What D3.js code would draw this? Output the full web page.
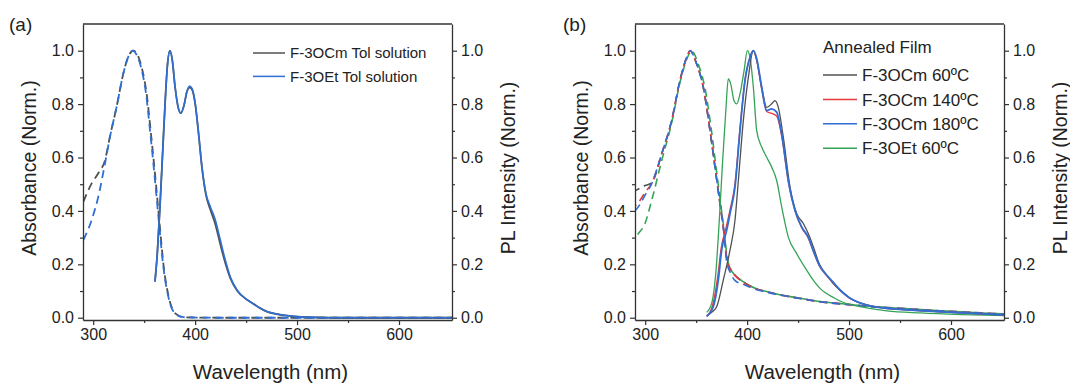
<!DOCTYPE html>
<html>
<head>
<meta charset="utf-8">
<script src="https://cdn.jsdelivr.net/npm/d3@7"></script>
<style>
  body { margin: 0; background: #fff; }
  svg { display: block; font-family: "Liberation Sans", Arial, sans-serif; }
  .domain { stroke: #333; stroke-width: 1.3; }
  .tick line { stroke: #333; stroke-width: 1.2; }
  .tick text { fill: #222; font-size: 16px; }
</style>
</head>
<body>
<div id="chart"></div>
<script>
// wavelength (nm) / normalized value pairs

// panel (a): toluene solutions
var absCmTol = [[290.3,0.434],[298.5,0.503],[305,0.541],[311.6,0.59],[316.5,0.68],[323,0.79],[329.6,0.915],[334.5,0.978],[339.5,1.0],[343.5,0.984],[348.2,0.928],[352.4,0.84],[356.3,0.703],[361.2,0.516],[365.4,0.341],[369.2,0.191],[374,0.079],[380.5,0.016],[388.5,0.002],[420,0],[652,0]];
var absEtTol = [[290.3,0.291],[298.5,0.366],[305,0.453],[311.6,0.578],[316.5,0.678],[323,0.79],[329.6,0.915],[334.5,0.978],[338.8,1.0],[342.7,0.984],[347.6,0.928],[351.8,0.84],[355.7,0.703],[360.6,0.516],[364.9,0.341],[368.8,0.191],[373.7,0.079],[380.3,0.016],[388.5,0.002],[420,0],[652,0]];
var plCmTol = [[360.6,0.135],[362.9,0.241],[365.5,0.416],[368.1,0.616],[370.7,0.815],[372.7,0.94],[375.3,1.0],[377.6,0.965],[380.3,0.865],[383.6,0.784],[385.9,0.766],[389.2,0.797],[391.9,0.846],[394.5,0.862],[396.9,0.855],[400.1,0.8],[403.4,0.688],[406.7,0.562],[410.6,0.46],[414.9,0.405],[419.8,0.35],[424.7,0.275],[429.6,0.205],[434.5,0.148],[441.1,0.102],[450.9,0.067],[458,0.05],[463.3,0.037],[471,0.022],[480,0.014],[488,0.009],[500,0.004],[520,0.001],[540,0],[652,0]];
var plEtTol = [[360.6,0.135],[362.9,0.241],[365.5,0.416],[368.1,0.616],[370.7,0.815],[372.7,0.94],[375.3,1.0],[377.6,0.965],[380.3,0.865],[383.6,0.784],[385.9,0.766],[389.2,0.797],[391.9,0.846],[394.5,0.868],[396.9,0.859],[400.1,0.803],[403.4,0.69],[406.7,0.565],[410.6,0.466],[414.9,0.416],[419.8,0.366],[424.7,0.291],[429.6,0.216],[434.5,0.153],[441.1,0.104],[450.9,0.068],[458,0.05],[463.3,0.037],[471,0.022],[480,0.014],[488,0.009],[500,0.004],[520,0.001],[540,0],[652,0]];

// panel (b): annealed films
var absCm60 = [[290,0.475],[295,0.485],[300,0.495],[306.4,0.505],[316.2,0.614],[326,0.739],[334.1,0.888],[340.7,0.975],[344,1.0],[350.5,0.95],[357,0.863],[363.6,0.701],[368.5,0.564],[373.4,0.427],[376.6,0.34],[380,0.225],[384,0.18],[388,0.16],[396.2,0.135],[408,0.11],[419.2,0.098],[435,0.084],[451.9,0.073],[471,0.061],[491,0.053],[520,0.043],[560,0.033],[600,0.024],[630,0.018],[652,0.014]];
var absCm140 = [[290,0.418],[295,0.44],[300,0.47],[306.4,0.503],[316.2,0.614],[326,0.739],[334.1,0.888],[340.7,0.975],[344,1.0],[350.5,0.95],[357,0.863],[363.6,0.701],[368.5,0.564],[373.4,0.427],[376.6,0.34],[380,0.222],[384,0.178],[388,0.158],[396.2,0.133],[408,0.109],[419.2,0.097],[435,0.083],[451.9,0.072],[471,0.06],[491,0.052],[520,0.042],[560,0.032],[600,0.023],[630,0.017],[652,0.013]];
var absCm180 = [[290,0.40],[295,0.425],[300,0.46],[306.4,0.502],[316.2,0.614],[326,0.739],[334.1,0.888],[340.7,0.975],[344,1.0],[350.5,0.95],[357,0.863],[363.6,0.701],[368.5,0.564],[373.4,0.427],[376.6,0.34],[380,0.21],[384,0.165],[388,0.14],[396.2,0.125],[408,0.107],[419.2,0.096],[435,0.083],[451.9,0.072],[471,0.06],[491,0.052],[520,0.042],[560,0.032],[600,0.023],[630,0.017],[652,0.013]];
var absEt60 = [[290,0.30],[293.2,0.315],[299.8,0.353],[306.4,0.44],[316.2,0.589],[326,0.73],[334.1,0.88],[341.5,0.975],[345.6,1.0],[352,0.95],[358.5,0.863],[365,0.701],[369.5,0.564],[374,0.427],[377,0.34],[380.5,0.225],[384,0.18],[388,0.16],[396.2,0.135],[408,0.11],[419.2,0.098],[435,0.084],[451.9,0.073],[471,0.061],[491,0.053],[520,0.043],[560,0.033],[600,0.024],[630,0.018],[652,0.014]];

var plCm60 = [[360.3,0.008],[365,0.02],[370.1,0.041],[376.6,0.141],[383.2,0.253],[388.1,0.365],[391.4,0.514],[396.3,0.739],[401.2,0.9],[406.1,1.0],[409.4,0.963],[414.3,0.863],[419.2,0.788],[424.1,0.801],[427.3,0.813],[430.6,0.788],[435.5,0.676],[442.1,0.489],[448.6,0.39],[455.1,0.353],[460,0.315],[465,0.265],[471,0.2],[478,0.16],[484,0.13],[492,0.1],[500,0.075],[520,0.045],[540,0.034],[560,0.029],[600,0.02],[652,0.01]];
var plCm140 = [[360.3,0.005],[366,0.045],[371,0.15],[374.5,0.26],[379.5,0.34],[383,0.4],[388,0.5],[393,0.71],[397.9,0.89],[402.8,0.975],[406.1,1.0],[409.4,0.965],[414.3,0.855],[419.2,0.772],[424.1,0.765],[429,0.755],[433.9,0.68],[440.4,0.51],[447,0.4],[453.5,0.337],[460,0.298],[465,0.248],[471,0.193],[478,0.158],[484,0.133],[492,0.1],[500,0.075],[520,0.045],[540,0.034],[560,0.029],[600,0.02],[652,0.011]];
var plCm180 = [[360.3,0.005],[366.8,0.041],[371.7,0.141],[375,0.253],[380,0.328],[383.2,0.39],[388.1,0.489],[393,0.701],[397.9,0.888],[402.8,0.975],[406.1,1.0],[409.4,0.97],[414.3,0.863],[419.2,0.776],[424.1,0.782],[429,0.77],[433.9,0.688],[440.4,0.514],[447,0.402],[453.5,0.34],[460,0.302],[465,0.25],[471,0.195],[478,0.16],[484,0.135],[492,0.101],[500,0.076],[520,0.045],[540,0.034],[560,0.029],[600,0.02],[652,0.011]];
var plEt60 = [[360.3,0.02],[365.2,0.054],[369.5,0.178],[372.7,0.365],[376,0.589],[379.3,0.788],[381.5,0.894],[383.9,0.876],[387.1,0.813],[389.8,0.801],[393,0.838],[397,0.925],[400.2,1.0],[402.8,0.975],[406.1,0.863],[409.4,0.701],[414.3,0.639],[419.2,0.601],[424.1,0.564],[429,0.514],[433.9,0.415],[440.4,0.302],[448.6,0.24],[458.4,0.178],[465,0.14],[471.5,0.11],[485,0.075],[494,0.058],[504,0.047],[520,0.035],[537,0.026],[570,0.018],[610,0.012],[652,0.008]];

var xTicks = [300, 400, 500, 600];
var xMinor = [350, 450, 550];
var yTicks = [0, 0.2, 0.4, 0.6, 0.8, 1.0];
var yMinor = [0.1, 0.3, 0.5, 0.7, 0.9];

var legendA = ["F-3OCm Tol solution", "F-3OEt Tol solution"];
var legendB = ["F-3OCm 60ºC", "F-3OCm 140ºC", "F-3OCm 180ºC", "F-3OEt 60ºC"];

var GRAY = "#505050", BLUE = "#2f6fd3", RED = "#e5393b", GREEN = "#35a356";

var W = 1070, H = 383;
var svg = d3.select("#chart").append("svg").attr("width", W).attr("height", H);

function drawPanel(opt) {
    var x = d3.scaleLinear().domain([290, 652]).range([opt.left, opt.left + 369]);
    var y = d3.scaleLinear().domain([-0.0085, 1.1]).range([320, 24]);
    var g = svg.append("g");

    var clipId = "clip" + opt.name;
    g.append("clipPath").attr("id", clipId).append("rect")
        .attr("x", x.range()[0]).attr("y", 24)
        .attr("width", x.range()[1] - x.range()[0]).attr("height", 296);

    // curves
    var line = d3.line()
        .x(function (d) { return x(d[0]); })
        .y(function (d) { return y(d[1]); })
        .curve(d3.curveMonotoneX);
    var curves = g.append("g").attr("clip-path", "url(#" + clipId + ")");
    opt.series.forEach(function (s) {
        curves.append("path")
            .attr("d", line(s.data))
            .attr("fill", "none")
            .attr("stroke", s.color)
            .attr("stroke-width", s.width)
            .attr("stroke-dasharray", s.dash ? "8,5" : null)
            .attr("stroke-dashoffset", s.offset || 0);
    });

    // axes
    g.append("g").attr("transform", "translate(0,320)")
        .call(d3.axisBottom(x).tickValues(xTicks).tickSize(5).tickSizeOuter(0).tickPadding(4).tickFormat(d3.format("d")));
    g.append("g").attr("transform", "translate(0,320)")
        .call(d3.axisBottom(x).tickValues(xMinor).tickSize(3).tickSizeOuter(0).tickFormat(""))
        .select(".domain").remove();
    g.append("g").attr("transform", "translate(" + x.range()[0] + ",0)")
        .call(d3.axisLeft(y).tickValues(yTicks).tickSize(5).tickSizeOuter(0).tickPadding(4).tickFormat(d3.format(".1f")));
    g.append("g").attr("transform", "translate(" + x.range()[0] + ",0)")
        .call(d3.axisLeft(y).tickValues(yMinor).tickSize(3).tickSizeOuter(0).tickFormat(""))
        .select(".domain").remove();
    g.append("g").attr("transform", "translate(" + x.range()[1] + ",0)")
        .call(d3.axisRight(y).tickValues(yTicks).tickSize(5).tickSizeOuter(0).tickPadding(4).tickFormat(d3.format(".1f")));
    g.append("g").attr("transform", "translate(" + x.range()[1] + ",0)")
        .call(d3.axisRight(y).tickValues(yMinor).tickSize(3).tickSizeOuter(0).tickFormat(""))
        .select(".domain").remove();
    g.append("line")
        .attr("x1", x.range()[0]).attr("x2", x.range()[1])
        .attr("y1", 24).attr("y2", 24)
        .attr("stroke", "#333").attr("stroke-width", 1.3);

    // titles
    var cx = (x.range()[0] + x.range()[1]) / 2 + 3;
    g.append("text").attr("x", cx).attr("y", 379)
        .attr("text-anchor", "middle").attr("font-size", 20.5).attr("fill", "#222")
        .text("Wavelength (nm)");
    g.append("text")
        .attr("transform", "translate(" + (x.range()[0] - 47.5) + ",168) rotate(-90)")
        .attr("text-anchor", "middle").attr("font-size", 19.5).attr("fill", "#222")
        .text("Absorbance (Norm.)");
    g.append("text")
        .attr("transform", "translate(" + (x.range()[1] + 63) + ",168) rotate(-90)")
        .attr("text-anchor", "middle").attr("font-size", 19.5).attr("fill", "#222")
        .text("PL Intensity (Norm.)");
    g.append("text").attr("x", opt.labelX).attr("y", 31)
        .attr("font-size", 19).attr("fill", "#222")
        .text(opt.label);

    // legend
    var lg = g.append("g");
    if (opt.legendTitle) {
        lg.append("text").attr("x", opt.legX).attr("y", opt.legTitleY + 6)
            .attr("font-size", opt.legFont).attr("fill", "#222")
            .text(opt.legendTitle);
    }
    opt.legend.forEach(function (name, i) {
        var yy = opt.legY + i * opt.legStep;
        lg.append("line")
            .attr("x1", opt.legX).attr("x2", opt.legX + opt.legLen)
            .attr("y1", yy).attr("y2", yy)
            .attr("stroke", opt.legColors[i]).attr("stroke-width", 1.5);
        lg.append("text")
            .attr("x", opt.legX + opt.legLen + 5).attr("y", yy + opt.legFont * 0.36)
            .attr("font-size", opt.legFont).attr("fill", "#222")
            .text(name);
    });
}

drawPanel({
    name: "a", left: 83, label: "(a)", labelX: 9,
    series: [
        { data: absCmTol, color: GRAY, width: 1.8, dash: true, offset: 0 },
        { data: absEtTol, color: BLUE, width: 1.8, dash: true, offset: 0 },
        { data: plCmTol, color: GRAY, width: 1.8 },
        { data: plEtTol, color: BLUE, width: 1.6 }
    ],
    legend: legendA, legColors: [GRAY, BLUE],
    legX: 253, legLen: 32, legY: 53, legStep: 23.4, legFont: 15
});

drawPanel({
    name: "b", left: 635, label: "(b)", labelX: 563,
    series: [
        { data: absCm60, color: GRAY, width: 1.6, dash: true, offset: 3 },
        { data: absEt60, color: GREEN, width: 1.6, dash: true, offset: 9 },
        { data: absCm140, color: RED, width: 1.6, dash: true, offset: 6 },
        { data: absCm180, color: BLUE, width: 1.6, dash: true, offset: 0 },
        { data: plEt60, color: GREEN, width: 1.3 },
        { data: plCm60, color: GRAY, width: 1.3 },
        { data: plCm140, color: RED, width: 1.3 },
        { data: plCm180, color: BLUE, width: 1.8 }
    ],
    legend: legendB, legColors: [GRAY, RED, BLUE, GREEN],
    legendTitle: "Annealed Film", legTitleY: 47,
    legX: 823, legLen: 34, legY: 75, legStep: 24.4, legFont: 17
});
</script>
</body>
</html>
